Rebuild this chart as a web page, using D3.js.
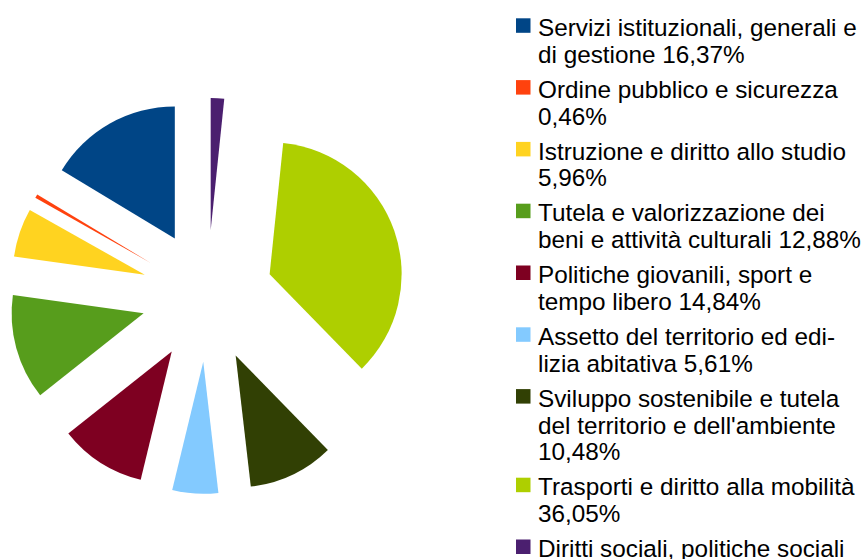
<!DOCTYPE html>
<html>
<head>
<meta charset="utf-8">
<script src="https://cdn.jsdelivr.net/npm/d3@7"></script>
<style>
  html, body { margin: 0; padding: 0; background: #ffffff; }
  svg { display: block; }
  text { font-family: "Liberation Sans", Arial, sans-serif; fill: #000; }
</style>
</head>
<body>
<svg id="chart" width="864" height="559"></svg>
<script>
// ---- data ----
const categories = [
  "Servizi istituzionali, generali e di gestione",
  "Ordine pubblico e sicurezza",
  "Istruzione e diritto allo studio",
  "Tutela e valorizzazione dei beni e attività culturali",
  "Politiche giovanili, sport e tempo libero",
  "Assetto del territorio ed edilizia abitativa",
  "Sviluppo sostenibile e tutela del territorio e dell'ambiente",
  "Trasporti e diritto alla mobilità",
  "Diritti sociali, politiche sociali"
];
// slice sizes (percent)
const values = [16.37, 0.46, 5.96, 12.88, 10.55, 5.61, 10.48, 36.05, 1.64];
// legend text lines as printed
const legendLines = [
  ["Servizi istituzionali, generali e", "di gestione 16,37%"],
  ["Ordine pubblico e sicurezza", "0,46%"],
  ["Istruzione e diritto allo studio", "5,96%"],
  ["Tutela e valorizzazione dei", "beni e attività culturali 12,88%"],
  ["Politiche giovanili, sport e", "tempo libero 14,84%"],
  ["Assetto del territorio ed edi-", "lizia abitativa 5,61%"],
  ["Sviluppo sostenibile e tutela", "del territorio e dell'ambiente", "10,48%"],
  ["Trasporti e diritto alla mobilità", "36,05%"],
  ["Diritti sociali, politiche sociali"]
];
const colors = ["#004586", "#ff420e", "#ffd320", "#579d1c", "#7e0021",
                "#83caff", "#314004", "#aecf00", "#4b1f6f"];

// ---- layout ----
const svg = d3.select("#chart");
const cx = 207.3, cy = 295.9, radius = 132, explode = 66;

const pie = d3.pie().sort(null).value(d => d)
  .startAngle(0).endAngle(-2 * Math.PI);   // counter-clockwise from 12 o'clock
const arc = d3.arc().innerRadius(0).outerRadius(radius);
const color = d3.scaleOrdinal().domain(d3.range(categories.length)).range(colors);

const arcs = pie(values);
svg.append("g")
  .attr("transform", `translate(${cx},${cy})`)
  .selectAll("path")
  .data(arcs)
  .join("path")
  .attr("d", arc)
  .attr("fill", (d, i) => color(i))
  .attr("transform", d => {
    const a = (d.startAngle + d.endAngle) / 2;
    return `translate(${explode * Math.sin(a)},${-explode * Math.cos(a)})`;
  });

// ---- legend ----
const fontSize = 24.3, linePitch = 26.8, entryGap = 35, firstBaseline = 36;
const legend = svg.append("g");
let y = firstBaseline;
legendLines.forEach((lines, i) => {
  const g = legend.append("g");
  g.append("rect")
    .attr("x", 516).attr("y", y - 17.7)
    .attr("width", 14.5).attr("height", 14.5)
    .attr("fill", color(i));
  lines.forEach((ln, j) => {
    g.append("text")
      .attr("x", 538).attr("y", y + j * linePitch)
      .attr("font-size", fontSize)
      .text(ln);
  });
  y += (lines.length - 1) * linePitch + entryGap;
});
</script>
</body>
</html>
